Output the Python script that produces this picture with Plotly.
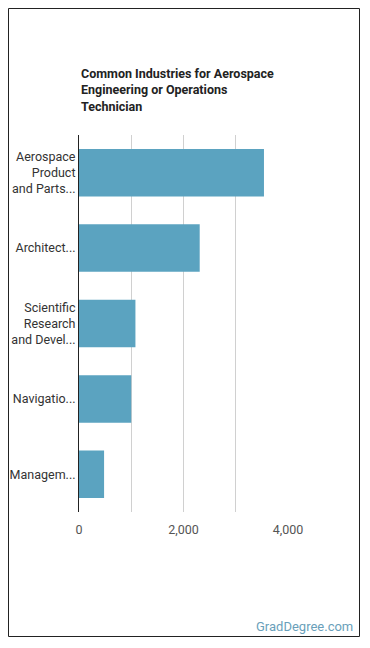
import plotly.graph_objects as go

categories = [
    "Aerospace<br>Product<br>and Parts...",
    "Architect...",
    "Scientific<br>Research<br>and Devel...",
    "Navigatio...",
    "Managem...",
]
values = [3540, 2310, 1080, 1000, 480]
tick_vals = [0, 1000, 2000, 3000, 4000]
tick_text = ["0", "", "2,000", "", "4,000"]
title_text = "Common Industries for Aerospace<br>Engineering or Operations<br>Technician"

W, H = 370, 648
L, R, T, B = 79, 288, 135, 512

def px(x):
    return (x - L) / (R - L)

def py(y):
    return (B - y) / (B - T)

fig = go.Figure(go.Bar(
    y=categories, x=values, orientation="h",
    marker=dict(color="#5ba3c0", line=dict(width=0)),
    hoverinfo="skip",
))

fig.update_layout(
    width=W, height=H,
    margin=dict(l=L, r=W - R, t=T, b=H - B, pad=0),
    paper_bgcolor="white", plot_bgcolor="white",
    showlegend=False, bargap=0.37,
    font=dict(family="Roboto", size=12.5, color="#333"),
    xaxis=dict(range=[0, 4000], tickvals=tick_vals, ticktext=tick_text,
               showgrid=True, gridcolor="#d0d0d0", gridwidth=1,
               zeroline=False, showline=False, ticks="",
               ticklabelstandoff=8, automargin=False,
               tickfont=dict(size=12.5, color="#555"), fixedrange=True),
    yaxis=dict(autorange="reversed", showline=True, linecolor="#222", linewidth=1,
               ticks="", showgrid=False, automargin=False,
               tickfont=dict(size=12.5, color="#333"),
               fixedrange=True),
    shapes=[dict(type="rect", xref="paper", yref="paper",
                 x0=px(8.5), x1=px(359.5), y0=py(636.5), y1=py(8.5),
                 line=dict(color="#222", width=1), fillcolor="rgba(0,0,0,0)",
                 layer="above")],
    annotations=[
        dict(text="<b>" + title_text + "</b>", xref="paper", yref="paper",
             x=0, y=py(64), xanchor="left", yanchor="top", align="left",
             showarrow=False, font=dict(size=12.5, color="#222", family="Roboto")),
        dict(text="GradDegree.com", xref="paper", yref="paper",
             x=px(355), y=py(626), xanchor="right", yanchor="middle",
             showarrow=False, font=dict(size=13, color="#6a9fba", family="Roboto")),
    ],
)

fig.write_html("out.html")
